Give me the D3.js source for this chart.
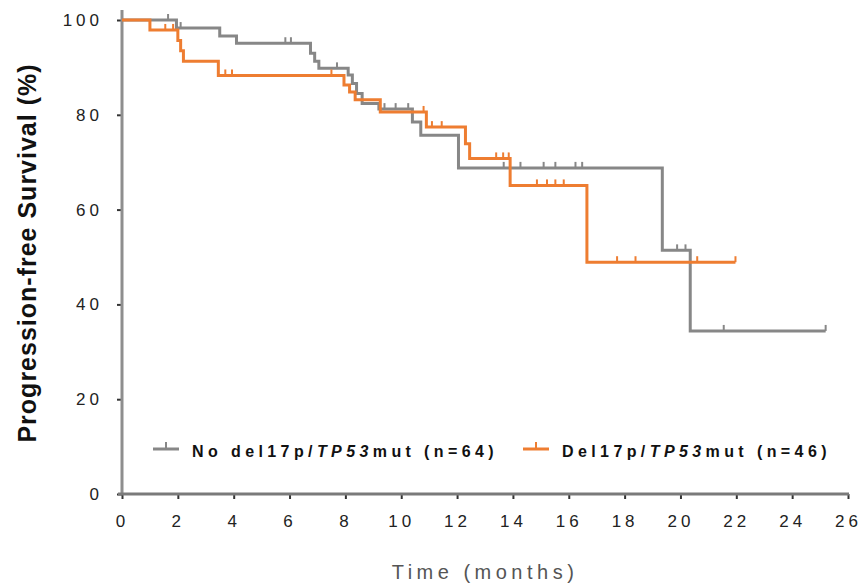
<!DOCTYPE html>
<html>
<head>
<meta charset="utf-8">
<script src="https://cdn.jsdelivr.net/npm/d3@7"></script>
<style>
  body { margin: 0; background: #fff; }
  svg { display: block; }
  .tick text { font-family: "Liberation Sans", Arial, sans-serif; font-size: 17px; fill: #222; letter-spacing: 4px; }
  .tick line { stroke: #333; stroke-width: 2; }
</style>
</head>
<body>
<svg id="chart"></svg>
<script>
// Kaplan-Meier steps (time in months, survival in %)
const noDelTimes = [0, 1.95, 3.5, 4.1, 6.75, 6.9, 7.05, 8.1, 8.25, 8.4, 8.6, 9.2, 10.4, 10.7, 12.05, 19.35, 20.35];
const noDelSurv  = [100, 98.3, 96.6, 95.1, 93.0, 91.3, 89.8, 88.4, 86.6, 84.5, 82.4, 81.2, 78.5, 75.7, 68.8, 51.4, 34.4];
const noDelEnd = 25.2;
const noDelCensor = [1.65, 2.1, 5.85, 6.05, 7.7, 9.4, 9.8, 10.25, 13.67, 14.27, 15.1, 15.52, 16.24, 16.48, 19.88, 20.18, 21.55, 25.2];

const delTimes = [0, 1.0, 2.0, 2.1, 2.2, 3.45, 7.95, 8.15, 8.35, 9.25, 10.9, 12.3, 12.45, 13.9, 16.65];
const delSurv  = [100, 97.9, 95.7, 93.5, 91.3, 88.3, 86.3, 84.8, 83.2, 80.6, 77.4, 73.9, 70.8, 65.1, 48.9];
const delEnd = 21.97;
const delCensor = [1.55, 1.83, 3.7, 3.94, 7.5, 10.8, 11.1, 11.45, 13.4, 13.65, 13.85, 14.86, 15.22, 15.52, 15.82, 17.73, 18.39, 20.6, 21.97];

const xTicks = d3.range(0, 27, 2);
const yTicks = [0, 20, 40, 60, 80, 100];

const width = 861, height = 585;
const margin = { left: 122, top: 20, right: 13, bottom: 91 };

const svg = d3.select("#chart").attr("width", width).attr("height", height);

const x = d3.scaleLinear().domain([0, 26]).range([margin.left, width - margin.right]);
const y = d3.scaleLinear().domain([0, 100]).range([height - margin.bottom, margin.top]);

// axes
const xAxis = svg.append("g")
    .attr("transform", `translate(0,${y(0)})`)
    .call(d3.axisBottom(x).tickValues(xTicks).tickSize(5).tickPadding(16));
xAxis.select(".domain").remove();

const yAxis = svg.append("g")
    .attr("transform", `translate(${x(0)},0)`)
    .call(d3.axisLeft(y).tickValues(yTicks).tickSize(5).tickPadding(14));
yAxis.select(".domain").remove();

svg.append("line")
    .attr("x1", x(0)).attr("x2", x(0))
    .attr("y1", y(100) - 10).attr("y2", y(0))
    .attr("stroke", "#8e8e8e").attr("stroke-width", 3);
svg.append("line")
    .attr("x1", x(0) - 4).attr("x2", x(26) + 1)
    .attr("y1", y(0)).attr("y2", y(0))
    .attr("stroke", "#7a7a7a").attr("stroke-width", 3);

// survival at a given time (step function)
function survAt(times, surv, t) {
    let v = surv[0];
    times.forEach((tt, i) => { if (tt <= t) v = surv[i]; });
    return v;
}

const line = d3.line()
    .x(d => x(d[0]))
    .y(d => y(d[1]))
    .curve(d3.curveStepAfter);

const series = [
    { times: noDelTimes, surv: noDelSurv, end: noDelEnd, censor: noDelCensor, color: "#878787" },
    { times: delTimes, surv: delSurv, end: delEnd, censor: delCensor, color: "#ee7d31" }
];

series.forEach(s => {
    const pts = s.times.map((t, i) => [t, s.surv[i]]);
    pts.push([s.end, s.surv[s.surv.length - 1]]);
    svg.append("path")
        .datum(pts)
        .attr("d", line)
        .attr("fill", "none")
        .attr("stroke", s.color)
        .attr("stroke-width", 3);

    svg.append("g").selectAll("line")
        .data(s.censor)
        .enter()
        .append("line")
        .attr("x1", d => x(d)).attr("x2", d => x(d))
        .attr("y1", d => y(survAt(s.times, s.surv, d)))
        .attr("y2", d => y(survAt(s.times, s.surv, d)) - 6)
        .attr("stroke", s.color)
        .attr("stroke-width", 2);
});

// legend
const legendData = [
    { pre: "No del17p/", it: "TP53", post: "mut (n=64)", color: "#878787", x: 153 },
    { pre: "Del17p/", it: "TP53", post: "mut (n=46)", color: "#ee7d31", x: 523 }
];
const lg = svg.append("g");
legendData.forEach(d => {
    lg.append("line")
        .attr("x1", d.x).attr("x2", d.x + 26)
        .attr("y1", 449).attr("y2", 449)
        .attr("stroke", d.color).attr("stroke-width", 3);
    lg.append("line")
        .attr("x1", d.x + 13).attr("x2", d.x + 13)
        .attr("y1", 449).attr("y2", 442)
        .attr("stroke", d.color).attr("stroke-width", 2);
    const t = lg.append("text")
        .attr("x", d.x + 39).attr("y", 457)
        .attr("font-family", "Liberation Sans, Arial, sans-serif")
        .attr("font-size", 16).attr("font-weight", "bold")
        .attr("letter-spacing", "4.4px")
        .attr("fill", "#111");
    t.append("tspan").text(d.pre);
    t.append("tspan").attr("font-style", "italic").text(d.it);
    t.append("tspan").text(d.post);
});

// axis titles
svg.append("text")
    .attr("transform", `translate(36,253) rotate(-90)`)
    .attr("text-anchor", "middle")
    .attr("font-family", "Liberation Sans, Arial, sans-serif")
    .attr("font-size", 25).attr("font-weight", "bold")
    .attr("letter-spacing", "1px")
    .attr("fill", "#111")
    .text("Progression-free Survival (%)");

svg.append("text")
    .attr("x", (x(0) + x(26)) / 2).attr("y", 579)
    .attr("text-anchor", "middle")
    .attr("font-family", "Liberation Sans, Arial, sans-serif")
    .attr("font-size", 20)
    .attr("letter-spacing", "4.5px")
    .attr("fill", "#555")
    .text("Time (months)");
</script>
</body>
</html>
